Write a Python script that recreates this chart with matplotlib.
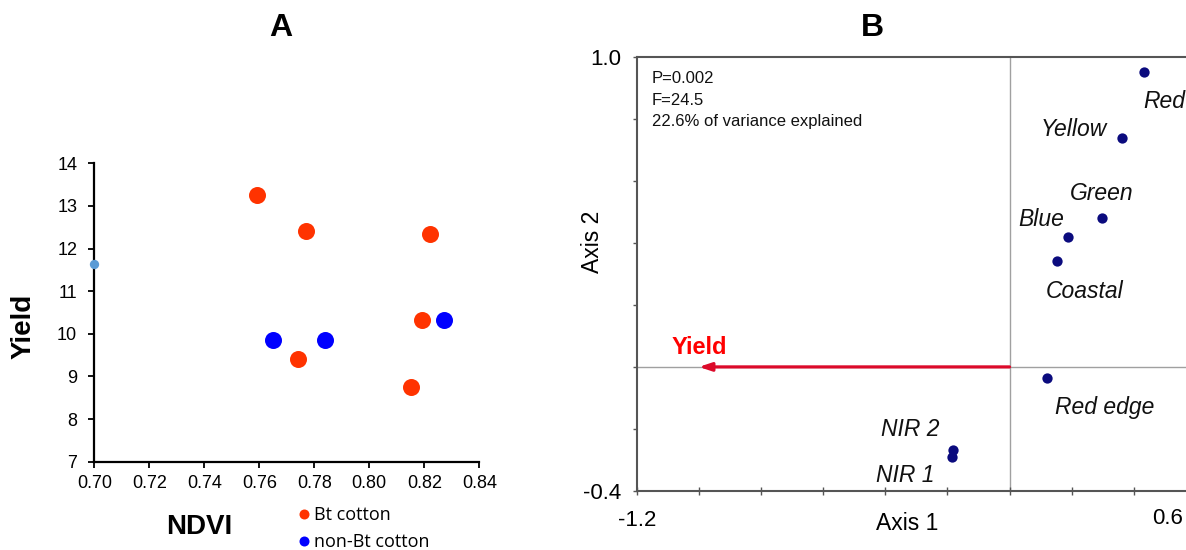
import matplotlib
matplotlib.use("Agg")
import matplotlib.pyplot as plt
from matplotlib.lines import Line2D

# ---------------- data ----------------
# Panel A: NDVI vs yield
bt_ndvi = [0.759, 0.777, 0.822, 0.819, 0.774, 0.815]
bt_yield = [13.25, 12.41, 12.34, 10.33, 9.42, 8.76]
nonbt_ndvi = [0.765, 0.784, 0.827]
nonbt_yield = [9.86, 9.86, 10.33]
stray_ndvi = [0.70]
stray_yield = [11.63]
a_xticks = [0.70, 0.72, 0.74, 0.76, 0.78, 0.80, 0.82, 0.84]
a_yticks = [7, 8, 9, 10, 11, 12, 13, 14]

# Panel B: RDA ordination of spectral bands
bands = ["Red", "Yellow", "Green", "Blue", "Coastal", "Red edge", "NIR 2", "NIR 1"]
axis1 = [0.432, 0.361, 0.299, 0.188, 0.154, 0.122, -0.182, -0.184]
axis2 = [0.950, 0.738, 0.480, 0.419, 0.340, -0.036, -0.268, -0.290]
yield_vector = (-1.0, 0.0)
stats_lines = ["P=0.002", "F=24.5", "22.6% of variance explained"]
b_xlim = (-1.2, 0.6)
b_ylim = (-0.4, 1.0)

# label offsets (pixels: right, up) for the band names
label_offsets = [(20, -29), (-48, 8), (-1, 25), (-27, 17), (27, -30),
                 (57, -29), (-43, 21), (-47, -19)]

ARIAL = ["Liberation Sans", "DejaVu Sans"]
LEGEND_FONT = ["Open Sans", "DejaVu Sans"]

W, H = 1186, 550
fig = plt.figure(figsize=(W / 100, H / 100), dpi=100)


def px_box(left, top, right, bottom):
    return [left / W, 1 - bottom / H, (right - left) / W, (bottom - top) / H]


# ---------------- Panel A ----------------
axA = fig.add_axes(px_box(94.3, 163.3, 479.3, 461.7))
axA.scatter(bt_ndvi, bt_yield, s=150, color="#FF3300", zorder=3, linewidths=0)
axA.scatter(nonbt_ndvi, nonbt_yield, s=150, color="#0000FF", zorder=3, linewidths=0)
axA.scatter(stray_ndvi, stray_yield, s=45, color="#5B9BD5", zorder=4,
            linewidths=0, clip_on=False)
axA.set_xlim(0.70, 0.84)
axA.set_ylim(7, 14)
axA.set_xticks(a_xticks)
axA.set_xticklabels([f"{v:.2f}" for v in a_xticks], family=ARIAL, fontsize=13)
axA.set_yticks(a_yticks)
axA.set_yticklabels([str(v) for v in a_yticks], family=ARIAL, fontsize=13)
for s in ("top", "right"):
    axA.spines[s].set_visible(False)
for s in ("left", "bottom"):
    axA.spines[s].set_linewidth(1.6)
    axA.spines[s].set_color("black")
axA.tick_params(axis="both", direction="out", length=4.3, width=1.3, color="black")
axA.tick_params(axis="y", pad=8)
axA.tick_params(axis="x", pad=5)
axA.set_ylabel("Yield", family=ARIAL, fontsize=20, fontweight="bold", va="center")
axA.yaxis.set_label_coords((24 - 94.3) / 385, (461.7 - 326.7) / 298.4)
axA.set_xlabel("NDVI", family=ARIAL, fontsize=20, fontweight="bold", va="center")
axA.xaxis.set_label_coords((199 - 94.3) / 385, (461.7 - 526.7) / 298.4)
fig.text(281 / W, 1 - 28.3 / H, "A", family=ARIAL, fontsize=23,
         fontweight="bold", ha="center", va="center")

handles = [
    Line2D([], [], marker="o", linestyle="none", markersize=7.2,
           markerfacecolor="#FF3300", markeredgewidth=0),
    Line2D([], [], marker="o", linestyle="none", markersize=7.2,
           markerfacecolor="#0000FF", markeredgewidth=0),
]
fig.legend(handles, ["Bt cotton", "non-Bt cotton"], loc="upper left",
           bbox_to_anchor=(299 / W, 1 - 506 / H), frameon=False,
           borderpad=0, borderaxespad=0, handlelength=0.6, handletextpad=0.22,
           labelspacing=0.5, prop={"family": LEGEND_FONT, "size": 13})

# ---------------- Panel B ----------------
axB = fig.add_axes(px_box(636.7, 56.7, 1196, 491))
axB.set_xlim(*b_xlim)
axB.set_ylim(*b_ylim)
axB.axhline(0, color="#a0a0a0", lw=1.0, zorder=1)
axB.axvline(0, color="#a0a0a0", lw=1.0, zorder=1)
axB.scatter(axis1, axis2, s=55, color="#0b0b7e", zorder=3, linewidths=0)
for name, x, y, (dx, dy) in zip(bands, axis1, axis2, label_offsets):
    axB.annotate(name, (x, y), xytext=(dx, dy), textcoords="offset pixels",
                 ha="center", va="center", fontsize=16.5, style="italic",
                 family=ARIAL, color="#111111")

axB.annotate("", xy=yield_vector, xytext=(0, 0),
             arrowprops=dict(arrowstyle="-|>,head_length=0.6,head_width=0.2",
                             color="#dc0a2a", lw=2.3, mutation_scale=12,
                             shrinkA=0, shrinkB=0), zorder=2)
axB.annotate("Yield", yield_vector, xytext=(0, 19), textcoords="offset pixels",
             ha="center", va="center", fontsize=17, fontweight="bold",
             family=ARIAL, color="#ff0000")

for i, line in enumerate(stats_lines):
    axB.text(0.027, 0.9487 - i * 0.0495, line, transform=axB.transAxes,
             ha="left", va="center", fontsize=12, family=ARIAL, color="#111111")

b_xticks = [b_xlim[0] + 0.2 * i for i in range(10)]
b_yticks = [b_ylim[0] + 0.2 * i for i in range(8)]
axB.set_xticks(b_xticks)
axB.set_xticklabels([f"{b_xlim[0]:.1f}"] + [""] * 9, family=ARIAL, fontsize=16)
# the upper end label sits left of the axis end
axB.annotate(f"{b_xlim[1]:.1f}", xy=(b_xlim[1], 0),
             xycoords=("data", "axes fraction"), xytext=(-44, -27),
             textcoords="offset pixels", ha="left", va="center",
             fontsize=16, family=ARIAL, annotation_clip=False)
axB.set_yticks(b_yticks)
axB.set_yticklabels([f"{b_ylim[0]:.1f}"] + [""] * 6 + [f"{b_ylim[1]:.1f}"],
                    family=ARIAL, fontsize=16)
for s in ("top", "left", "bottom", "right"):
    axB.spines[s].set_color("#555555")
    axB.spines[s].set_linewidth(1.5)
axB.tick_params(axis="y", direction="out", length=3, width=1.0, color="#555555", pad=8)
axB.tick_params(axis="x", direction="inout", length=6, width=1.0, color="#555555", pad=11)
axB.set_xlabel("Axis 1", family=ARIAL, fontsize=16.5, va="center")
axB.xaxis.set_label_coords((907 - 636.7) / 559.3, (491 - 523) / 434.3)
axB.set_ylabel("Axis 2", family=ARIAL, fontsize=16.5, va="center")
axB.yaxis.set_label_coords((593 - 636.7) / 559.3, (491 - 241.7) / 434.3)
fig.text(872 / W, 1 - 28.3 / H, "B", family=ARIAL, fontsize=23,
         fontweight="bold", ha="center", va="center")

fig.savefig("out.png", dpi=100)
